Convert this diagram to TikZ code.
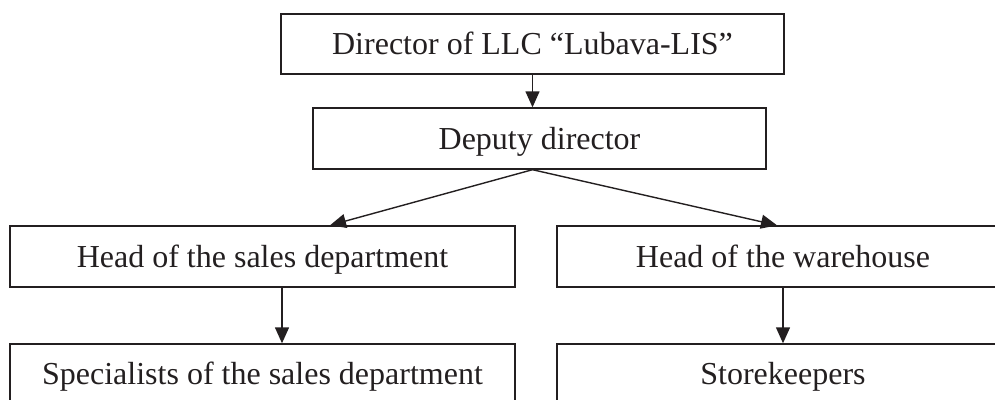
\documentclass[tikz,border=0pt]{standalone}
\usepackage{fontspec}
\setmainfont{Liberation Serif}
\usepackage{xcolor}
\usetikzlibrary{arrows.meta}

\definecolor{ink}{HTML}{231F20}

\begin{document}
\begin{tikzpicture}[
  x=1pt,y=-1pt,
  font=\fontsize{32}{38}\selectfont,
  box/.style={draw=ink,text=ink,line width=1.4pt,inner sep=0pt,minimum height=60pt,
    text height=23pt,text depth=2pt},
  arr/.style={-{Triangle[length=16pt,width=14pt]},ink,line width=1.4pt}
]
\useasboundingbox (0,0) rectangle (995,399);

% Layout:
% Row 1: director
% Row 2: deputy
% Row 3: heads
% Row 4: staff

%%%%%%%%%%%%%%%%%%%%%%%%%%%%%%%%%%%%%%%%%%%%%%%%%%%%
% Management
%%%%%%%%%%%%%%%%%%%%%%%%%%%%%%%%%%%%%%%%%%%%%%%%%%%%
\node[box,minimum width=503pt] (dir) at (532.5,44) {Director of LLC “Lubava-LIS”};
\node[box,minimum width=453pt,minimum height=61pt] (dep) at (539.5,138.5) {Deputy director};

\draw[arr] (dir.south) -- (dir.south |- dep.north);

%%%%%%%%%%%%%%%%%%%%%%%%%%%%%%%%%%%%%%%%%%%%%%%%%%%%
% Heads
%%%%%%%%%%%%%%%%%%%%%%%%%%%%%%%%%%%%%%%%%%%%%%%%%%%%
\node[box,minimum width=505pt,minimum height=61pt] (hsales) at (262.5,256.5) {Head of the sales department};
\node[box,minimum width=452pt,minimum height=61pt] (hware) at (783,256.5) {Head of the warehouse};

\coordinate (fork) at (dir.south |- dep.south);
\draw[arr] (fork) -- ([xshift=67.5pt]hsales.north);
\draw[arr] (fork) -- ([xshift=-6pt]hware.north);

%%%%%%%%%%%%%%%%%%%%%%%%%%%%%%%%%%%%%%%%%%%%%%%%%%%%
% Staff
%%%%%%%%%%%%%%%%%%%%%%%%%%%%%%%%%%%%%%%%%%%%%%%%%%%%
\node[box,minimum width=505pt] (spec) at (262.5,374) {Specialists of the sales department};
\node[box,minimum width=452pt] (store) at (783,374) {Storekeepers};

\draw[arr] ([xshift=19.5pt]hsales.south) -- ([xshift=19.5pt]spec.north);
\draw[arr] (hware.south) -- (store.north);

\end{tikzpicture}
\end{document}
